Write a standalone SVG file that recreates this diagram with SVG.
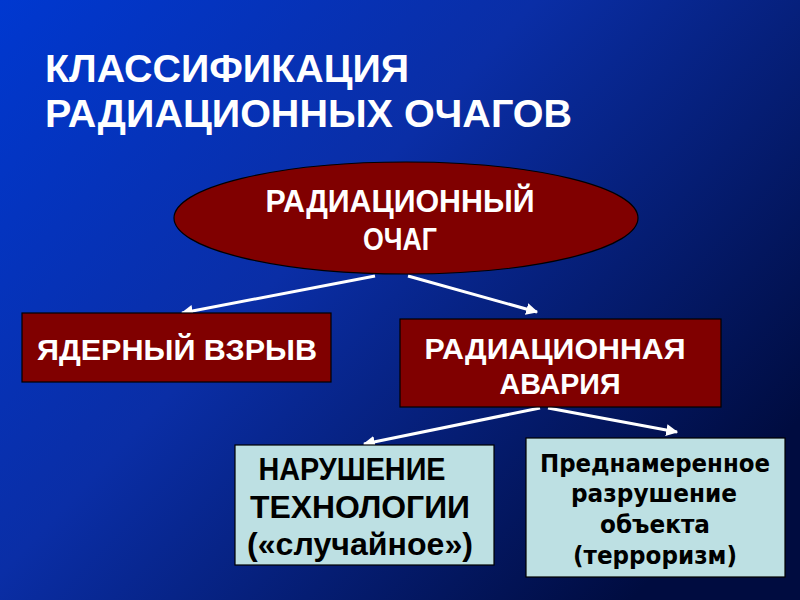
<svg xmlns="http://www.w3.org/2000/svg" width="800" height="600" viewBox="0 0 800 600">
<defs>
<linearGradient id="bg" x1="0" y1="0" x2="1" y2="0.7">
<stop offset="0" stop-color="#0038d0"/>
<stop offset="0.45" stop-color="#0a2ea6"/>
<stop offset="1" stop-color="#000c40"/>
</linearGradient>
<marker id="ah" viewBox="0 0 10 10" refX="9" refY="5" markerWidth="4" markerHeight="4" orient="auto" markerUnits="strokeWidth">
<path d="M0,0 L10,5 L0,10 z" fill="#ffffff"/>
</marker>
<style>
.red{fill:#800000;stroke:#000;stroke-width:1.2}
.lite{fill:#bde0e3;stroke:#000;stroke-width:1.2}
.wt{font-family:"Liberation Sans",Arial,sans-serif;font-weight:bold;fill:#fff}
.bk{font-family:"Liberation Sans",Arial,sans-serif;font-weight:bold;fill:#000}
.bk2{font-family:"DejaVu Sans",Verdana,sans-serif;font-weight:bold;fill:#000}
.arr{stroke:#fff;stroke-width:3;fill:none;marker-end:url(#ah)}
</style>
</defs>
<rect width="800" height="600" fill="url(#bg)"/>
<g id="title">
<text class="wt" x="45" y="82" font-size="38" textLength="364" lengthAdjust="spacingAndGlyphs">КЛАССИФИКАЦИЯ</text>
<text class="wt" x="45" y="127" font-size="38" textLength="527" lengthAdjust="spacingAndGlyphs">РАДИАЦИОННЫХ ОЧАГОВ</text>
</g>
<g id="connectors">
<line class="arr" x1="375" y1="276" x2="182" y2="313"/>
<line class="arr" x1="408" y1="276" x2="537" y2="312"/>
<line class="arr" x1="540" y1="408" x2="364" y2="444"/>
<line class="arr" x1="548" y1="408" x2="677" y2="432"/>
</g>
<g id="root">
<ellipse class="red" cx="406" cy="218" rx="232" ry="56"/>
<text class="wt" x="400" y="212" font-size="31" text-anchor="middle" textLength="269" lengthAdjust="spacingAndGlyphs">РАДИАЦИОННЫЙ</text>
<text class="wt" x="400" y="250" font-size="31" text-anchor="middle" textLength="74" lengthAdjust="spacingAndGlyphs">ОЧАГ</text>
</g>
<g id="nuclear">
<rect class="red" x="22" y="313" width="309" height="69"/>
<text class="wt" x="177" y="360" font-size="30" text-anchor="middle" textLength="280" lengthAdjust="spacingAndGlyphs">ЯДЕРНЫЙ ВЗРЫВ</text>
</g>
<g id="accident">
<rect class="red" x="400" y="319" width="321" height="88"/>
<text class="wt" x="555" y="359" font-size="30" text-anchor="middle" textLength="261" lengthAdjust="spacingAndGlyphs">РАДИАЦИОННАЯ</text>
<text class="wt" x="560" y="394" font-size="30" text-anchor="middle" textLength="121" lengthAdjust="spacingAndGlyphs">АВАРИЯ</text>
</g>
<g id="tech">
<rect class="lite" x="235" y="445" width="259" height="120"/>
<text class="bk" x="352" y="480" font-size="31" text-anchor="middle" textLength="187" lengthAdjust="spacingAndGlyphs">НАРУШЕНИЕ</text>
<text class="bk" x="360" y="518" font-size="31" text-anchor="middle" textLength="220" lengthAdjust="spacingAndGlyphs">ТЕХНОЛОГИИ</text>
<text class="bk" x="360" y="555" font-size="31" text-anchor="middle" textLength="226" lengthAdjust="spacingAndGlyphs">(«случайное»)</text>
</g>
<g id="terror">
<rect class="lite" x="526" y="438" width="259" height="139"/>
<text class="bk2" x="655" y="472" font-size="25" text-anchor="middle" textLength="230" lengthAdjust="spacingAndGlyphs">Преднамеренное</text>
<text class="bk2" x="654" y="502" font-size="25" text-anchor="middle" textLength="166" lengthAdjust="spacingAndGlyphs">разрушение</text>
<text class="bk2" x="655" y="533" font-size="25" text-anchor="middle" textLength="110" lengthAdjust="spacingAndGlyphs">объекта</text>
<text class="bk2" x="655" y="564" font-size="25" text-anchor="middle" textLength="164" lengthAdjust="spacingAndGlyphs">(терроризм)</text>
</g>
</svg>
